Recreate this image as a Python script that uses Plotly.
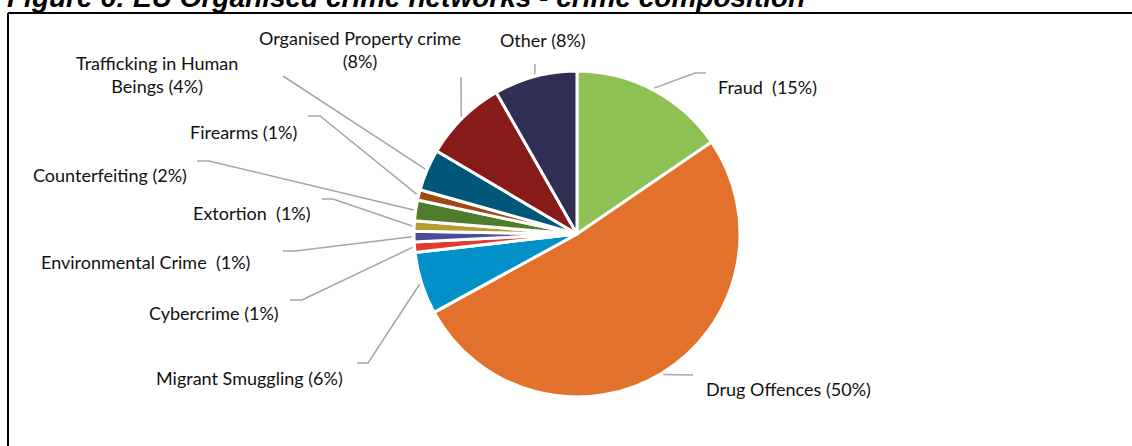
import math
import plotly.graph_objects as go

# Crime composition of EU organised crime networks (share of networks, %)
categories = [
    "Fraud", "Drug Offences", "Migrant Smuggling", "Cybercrime",
    "Environmental Crime", "Extortion", "Counterfeiting", "Firearms",
    "Trafficking in Human Beings", "Organised Property crime", "Other",
]
shares = [15, 50, 6, 1, 1, 1, 2, 1, 4, 8, 8]
label_texts = [
    "Fraud\u00a0 (15%)", "Drug Offences (50%)", "Migrant Smuggling (6%)",
    "Cybercrime (1%)", "Environmental Crime\u00a0 (1%)", "Extortion\u00a0 (1%)",
    "Counterfeiting (2%)", "Firearms (1%)", "Trafficking in Human<br>Beings (4%)",
    "Organised Property crime<br>(8%)", "Other (8%)",
]
colors = [
    "#8DC153", "#E2712B", "#0191C8", "#E03B2F", "#4B4C9C", "#B49C2F",
    "#4F7B2C", "#9E4B12", "#00577A", "#861B1A", "#312E54",
]

W, H = 1132, 446
CX, CY, R = 577, 234, 163


def px(x):
    return x / W


def py(y):
    return 1 - y / H


# label placement (pixels): text anchor point and leader-line elbow points
label_layout = [
    dict(x=716, y=87, anchor="left", elbow=[(695, 73), (706, 73)]),
    dict(x=704, y=389, anchor="left", elbow=[(693, 375)]),
    dict(x=250, y=378, anchor="center", elbow=[(368, 363), (357, 363)]),
    dict(x=214, y=313, anchor="center", elbow=[(302, 300), (290, 300)]),
    dict(x=145, y=262, anchor="center", elbow=[(295, 251), (283, 251)]),
    dict(x=252, y=213, anchor="center", elbow=[(333, 199), (322, 199)]),
    dict(x=110, y=175, anchor="center", elbow=[(209, 161), (197, 161)]),
    dict(x=243, y=132, anchor="center", elbow=[(320, 116), (308, 116)]),
    dict(x=157, y=74, anchor="center", elbow=[(283, 76)]),
    dict(x=360, y=50, anchor="center", elbow=[(461, 77)]),
    dict(x=543, y=40, anchor="center", elbow=[(535, 64)]),
]

fig = go.Figure(
    go.Pie(
        labels=categories,
        values=shares,
        sort=False,
        direction="clockwise",
        rotation=0,
        textinfo="none",
        hoverinfo="label+percent",
        marker=dict(colors=colors, line=dict(color="white", width=3)),
        domain=dict(x=[px(CX - R), px(CX + R)], y=[py(CY + R), py(CY - R)]),
        showlegend=False,
    )
)

shapes = []
annotations = []
total = sum(shares)
cum = 0.0
for text, v, lay in zip(label_texts, shares, label_layout):
    mid = (cum + v / 2) / total * 2 * math.pi
    cum += v
    r_lead = R + 2
    sx = CX + r_lead * math.sin(mid)
    sy = CY - r_lead * math.cos(mid)
    pts = [(sx, sy)] + lay["elbow"]
    path = "M " + " L ".join(f"{px(a):.5f},{py(b):.5f}" for a, b in pts)
    shapes.append(dict(type="path", path=path, xref="paper", yref="paper",
                       line=dict(color="#A6A6A6", width=1.5)))
    annotations.append(dict(
        text=text, x=px(lay["x"]), y=py(lay["y"]), xref="paper", yref="paper",
        xanchor=lay["anchor"], yanchor="middle", showarrow=False, align="center",
        font=dict(family="Lato, sans-serif", size=18, color="#111111"),
    ))

# figure title above the frame
annotations.append(dict(
    text="Figure 6: EU Organised crime networks - crime composition",
    x=px(5), y=py(-3), xref="paper", yref="paper", xanchor="left", yanchor="middle",
    showarrow=False,
    font=dict(family="Liberation Sans, Arial, sans-serif", size=28, color="#000000",
              weight="bold", style="italic"),
))

# frame around the chart area
shapes.append(dict(type="line", xref="paper", yref="paper",
                   x0=px(8), x1=px(W + 5), y0=py(13), y1=py(13),
                   line=dict(color="#000000", width=2)))
shapes.append(dict(type="line", xref="paper", yref="paper",
                   x0=px(8), x1=px(8), y0=py(13), y1=py(H + 5),
                   line=dict(color="#000000", width=2)))

fig.update_layout(
    width=W, height=H,
    margin=dict(l=0, r=0, t=0, b=0),
    paper_bgcolor="white", plot_bgcolor="white",
    shapes=shapes, annotations=annotations,
)

fig.write_html("out.html")
